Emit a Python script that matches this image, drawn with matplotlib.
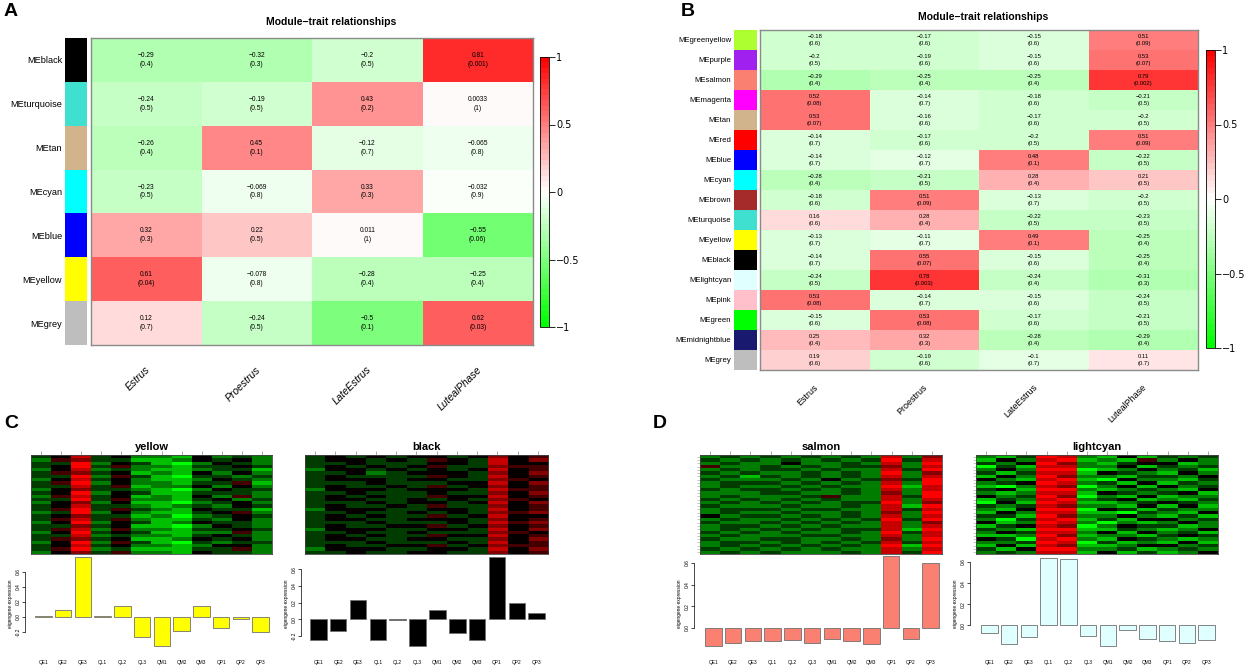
import numpy as np
import matplotlib
matplotlib.use('Agg')
import matplotlib.pyplot as plt
from matplotlib.colors import LinearSegmentedColormap, Normalize
from matplotlib.cm import ScalarMappable

W, H = 1247, 667
SANS = ['Liberation Sans', 'DejaVu Sans']

traits = ['Estrus', 'Proestrus', 'LateEstrus', 'LutealPhase']
samples = ['QE1', 'QE2', 'QE3', 'QL1', 'QL2', 'QL3',
           'QM1', 'QM2', 'QM3', 'QP1', 'QP2', 'QP3']

# ---- panel A: module-trait correlations (text as printed) ----
a_modules = ['MEblack', 'MEturquoise', 'MEtan', 'MEcyan', 'MEblue', 'MEyellow', 'MEgrey']
a_colors = ['black', '#40E0D0', '#D2B48C', 'cyan', 'blue', 'yellow', '#BEBEBE']
a_cor = [['-0.29', '-0.32', '-0.2', '0.81'],
         ['-0.24', '-0.19', '0.43', '0.0033'],
         ['-0.26', '0.45', '-0.12', '-0.065'],
         ['-0.23', '-0.069', '0.33', '-0.032'],
         ['0.32', '0.22', '0.011', '-0.55'],
         ['0.61', '-0.078', '-0.28', '-0.25'],
         ['0.12', '-0.24', '-0.5', '0.62']]
a_p = [['0.4', '0.3', '0.5', '0.001'],
       ['0.5', '0.5', '0.2', '1'],
       ['0.4', '0.1', '0.7', '0.8'],
       ['0.5', '0.8', '0.3', '0.9'],
       ['0.3', '0.5', '1', '0.06'],
       ['0.04', '0.8', '0.4', '0.4'],
       ['0.7', '0.5', '0.1', '0.03']]

# ---- panel B ----
b_modules = ['MEgreenyellow', 'MEpurple', 'MEsalmon', 'MEmagenta', 'MEtan', 'MEred',
             'MEblue', 'MEcyan', 'MEbrown', 'MEturquoise', 'MEyellow', 'MEblack',
             'MElightcyan', 'MEpink', 'MEgreen', 'MEmidnightblue', 'MEgrey']
b_colors = ['#ADFF2F', '#A020F0', '#FA8072', 'magenta', '#D2B48C', 'red',
            'blue', 'cyan', '#A52A2A', '#40E0D0', 'yellow', 'black',
            '#E0FFFF', '#FFC0CB', '#00FF00', '#191970', '#BEBEBE']
b_cor = [['-0.18', '-0.17', '-0.15', '0.51'],
         ['-0.2', '-0.19', '-0.15', '0.53'],
         ['-0.29', '-0.25', '-0.25', '0.79'],
         ['0.52', '-0.14', '-0.18', '-0.21'],
         ['0.53', '-0.16', '-0.17', '-0.2'],
         ['-0.14', '-0.17', '-0.2', '0.51'],
         ['-0.14', '-0.12', '0.48', '-0.22'],
         ['-0.28', '-0.21', '0.28', '0.21'],
         ['-0.18', '0.51', '-0.13', '-0.2'],
         ['0.16', '0.28', '-0.22', '-0.23'],
         ['-0.13', '-0.11', '0.49', '-0.25'],
         ['-0.14', '0.55', '-0.15', '-0.25'],
         ['-0.24', '0.78', '-0.24', '-0.31'],
         ['0.53', '-0.14', '-0.15', '-0.24'],
         ['-0.15', '0.53', '-0.17', '-0.21'],
         ['0.25', '0.32', '-0.28', '-0.29'],
         ['0.19', '-0.19', '-0.1', '0.11']]
b_p = [['0.6', '0.6', '0.6', '0.09'],
       ['0.5', '0.6', '0.6', '0.07'],
       ['0.4', '0.4', '0.4', '0.002'],
       ['0.08', '0.7', '0.6', '0.5'],
       ['0.07', '0.6', '0.6', '0.5'],
       ['0.7', '0.6', '0.5', '0.09'],
       ['0.7', '0.7', '0.1', '0.5'],
       ['0.4', '0.5', '0.4', '0.5'],
       ['0.6', '0.09', '0.7', '0.5'],
       ['0.6', '0.4', '0.5', '0.5'],
       ['0.7', '0.7', '0.1', '0.4'],
       ['0.7', '0.07', '0.6', '0.4'],
       ['0.5', '0.003', '0.4', '0.3'],
       ['0.08', '0.7', '0.6', '0.5'],
       ['0.6', '0.08', '0.6', '0.5'],
       ['0.4', '0.3', '0.4', '0.4'],
       ['0.6', '0.6', '0.7', '0.7']]

# ---- panels C/D: eigengene bars ----
yellow_eig = [0.02, 0.096, 0.80, 0.013, 0.145, -0.27, -0.38, -0.19, 0.145, -0.15, -0.03, -0.20]
black_eig = [-0.25, -0.14, 0.23, -0.25, -0.01, -0.32, 0.115, -0.17, -0.25, 0.75, 0.20, 0.07]
salmon_eig = [-0.17, -0.14, -0.12, -0.125, -0.11, -0.14, -0.10, -0.12, -0.155, 0.66, -0.10, 0.60]
lightcyan_eig = [-0.075, -0.176, -0.113, 0.64, 0.625, -0.10, -0.20, -0.047, -0.126, -0.148, -0.167, -0.14]

# expression heatmaps, levels 0 (green) .. 4 (black) .. 8 (red), estimated by eye
yellow_expr = ["347342214232", "256331124342", "338243102432", "348352213343",
               "247232112331", "356341214242", "338253103323", "247342112432",
               "358242213351", "337351224242", "246332102433", "348243113332",
               "257341214252", "338352213423", "246241102342", "347332123243",
               "358353214331", "238242113452", "346331202343", "357352113242",
               "248243124332", "336341102432", "357252213343", "248343112252",
               "337232213432", "356341124342", "248253103233", "347342212442",
               "358231113352", "246352214332"]
black_expr = ["343434434645", "344343543746", "334333443744", "343434533655",
              "244343434745", "334234443646", "343333543745", "344434433654",
              "333433344746", "343343534645", "244434443755", "334333433646",
              "343433544745", "344334343654", "333434434746", "343343533645",
              "244433443745", "334334343656", "343433534744", "344334443645",
              "333433343756", "343344534645", "244433443746", "334334333654",
              "343433544745", "344334433646", "333433343745", "343344534655",
              "244433443746", "334334433645"]
salmon_expr = ["232323232726", "323232323837", "232242232728", "522323233627",
               "232332322738", "323223232826", "231323232727", "322232423638",
               "233323232728", "232232322817", "323323232727", "222332232628",
               "232223522738", "323232322727", "232323233826", "322232232718",
               "233323322737", "232232232628", "423323232727", "232232323838",
               "322323232726", "233232322727", "232323233718", "323232232837",
               "232223322727", "322332232628", "233232323737", "232323232818",
               "323232322727", "232322232738"]
lightcyan_expr = ["213872141323", "142781215242", "324862134412", "031772241323",
                  "242880124231", "313771432142", "142862213324", "421781042213",
                  "234872314132", "102760241423", "341882123214", "212771432341",
                  "423860214122", "132782341213", "041871123432", "323762214141",
                  "214880431322", "142771103214", "331862242131", "203781314423",
                  "412872021242", "134760243312", "321881132124", "243772414231",
                  "112861221343", "430782143212", "223870312141", "141761124423",
                  "314882231232", "232771413124"]

gwr = LinearSegmentedColormap.from_list('gwr', ['#00FF00', '#FFFFFF', '#FF0000'], N=50)
gbr = LinearSegmentedColormap.from_list('gbr', ['#00FF00', '#000000', '#FF0000'], N=64)

fig = plt.figure(figsize=(W / 100, H / 100), dpi=100)


def px_axes(x0, y0, x1, y1):
    return fig.add_axes([x0 / W, 1 - y1 / H, (x1 - x0) / W, (y1 - y0) / H])


def trait_heatmap(strip, heat, cbar, modules, colors, cor, pval, lab_fs, cell_fs,
                  xlab_y, xlab_fs, italic, title_xy):
    n = len(modules)
    ax_s = px_axes(*strip)
    for i, c in enumerate(colors):
        ax_s.axhspan(i, i + 1, color=c, lw=0)
    ax_s.set_ylim(n, 0)
    ax_s.set_xlim(0, 1)
    ax_s.set_xticks([])
    ax_s.set_yticks(np.arange(n) + 0.5)
    ax_s.set_yticklabels(modules, fontsize=lab_fs, family=SANS)
    ax_s.tick_params(axis='y', length=0, pad=2)
    for s in ax_s.spines.values():
        s.set_visible(False)

    ax = px_axes(*heat)
    vals = np.array([[float(v) for v in row] for row in cor])
    ax.pcolormesh(vals, cmap=gwr, vmin=-1, vmax=1)
    ax.set_ylim(n, 0)
    ax.set_xticks([])
    ax.set_yticks([])
    for s in ax.spines.values():
        s.set_color('#8a8a8a')
        s.set_linewidth(1.0)
    for i in range(n):
        for j in range(4):
            ax.text(j + 0.5, i + 0.5, cor[i][j].replace('-', '\u2212') + '\n(' + pval[i][j] + ')',
                    ha='center', va='center', fontsize=cell_fs, family=SANS, linespacing=1.35)

    x0, x1 = heat[0], heat[2]
    cw = (x1 - x0) / 4
    for j, t in enumerate(traits):
        cx = x0 + cw * (j + 0.5) + 2
        fig.text(cx / W, 1 - xlab_y / H, t, rotation=45, rotation_mode='anchor',
                 ha='right', va='center', fontsize=xlab_fs, family=SANS,
                 style='italic' if italic else 'normal')

    cax = px_axes(*cbar)
    cb = fig.colorbar(ScalarMappable(Normalize(-1, 1), gwr), cax=cax, ticks=[-1, -0.5, 0, 0.5, 1])
    cb.set_ticklabels(['\u22121', '\u22120.5', '0', '0.5', '1'])
    cax.tick_params(labelsize=7, length=4, width=0.6, pad=1)
    cb.outline.set_linewidth(0.6)

    fig.text(title_xy[0] / W, 1 - title_xy[1] / H, 'Module\u2212trait relationships',
             ha='center', va='center', fontsize=7.5, fontweight='bold', family=SANS)


def expr_panel(box, title, rows, row_ticks=False):
    ax = px_axes(*box)
    m = (np.array([[int(ch) for ch in r] for r in rows]) - 4) / 4.0
    ax.imshow(m, cmap=gbr, vmin=-1, vmax=1, aspect='auto', interpolation='nearest')
    ax.set_xticks(range(12))
    ax.xaxis.tick_top()
    ax.tick_params(axis='x', length=3, width=0.5, color='#888888', labeltop=False)
    if row_ticks:
        ax.set_yticks(range(len(rows)))
        ax.tick_params(axis='y', length=2, width=0.4, color='#999999', labelleft=False)
    else:
        ax.set_yticks([])
    for s in ax.spines.values():
        s.set_color('#444444')
        s.set_linewidth(0.6)
    cx = (box[0] + box[2]) / 2
    fig.text(cx / W, 1 - 447 / H, title, ha='center', va='center', fontsize=8,
             fontweight='bold', family=SANS)


def bar_panel(x_axis, x_first, x_last, x_right, zero_y, unit_px, values, color, ticks):
    y_top, y_bot = 555, 652
    ax = px_axes(x_axis, y_top, x_right, y_bot)
    bw = 16.6
    step = (x_last - x_first - bw) / 11
    c0 = x_first + bw / 2
    ax.set_xlim(-(c0 - x_axis) / step, 11 + (x_right - (c0 + 11 * step)) / step)
    ax.set_ylim(-(y_bot - zero_y) / unit_px, (zero_y - y_top) / unit_px)
    ax.bar(range(12), values, width=bw / step, color=color, edgecolor='#707070', linewidth=0.6)
    ax.set_xticks(range(12))
    ax.set_xticklabels(samples, fontsize=3.5, family=SANS)
    ax.tick_params(axis='x', length=0, pad=6)
    ax.set_yticks(ticks)
    ax.set_yticklabels(['%.1f' % t for t in ticks], fontsize=3.5, family=SANS,
                       rotation=90, va='center')
    ax.tick_params(axis='y', length=2, width=0.5, pad=1)
    for k in ['top', 'right', 'bottom']:
        ax.spines[k].set_visible(False)
    ax.spines['left'].set_bounds(ticks[0], ticks[-1])
    ax.spines['left'].set_linewidth(0.5)
    ax.set_ylabel('eigengene expression', fontsize=3.5, family=SANS, labelpad=2)
    ax.patch.set_alpha(0)


trait_heatmap((65, 38, 87, 345), (91, 38, 533, 345), (540, 57, 549, 327),
              a_modules, a_colors, a_cor, a_p, 6.6, 4.8, 368, 7.5, True, (331, 22))
trait_heatmap((734, 30, 757, 370), (760, 30, 1198, 370), (1206, 50, 1215, 348),
              b_modules, b_colors, b_cor, b_p, 5.6, 4.2, 386, 6.5, False, (983, 17))

expr_panel((31, 455, 272, 554), 'yellow', yellow_expr)
expr_panel((305, 455, 548, 554), 'black', black_expr)
expr_panel((700, 455, 942, 554), 'salmon', salmon_expr, row_ticks=True)
expr_panel((976, 455, 1218, 554), 'lightcyan', lightcyan_expr, row_ticks=True)

tk_full = [-0.2, 0.0, 0.2, 0.4, 0.6]
tk_pos = [0.0, 0.2, 0.4, 0.6]
bar_panel(25, 35, 269, 275, 617, 75, yellow_eig, 'yellow', tk_full)
bar_panel(301, 310, 545, 550, 619.3, 83.3, black_eig, 'black', tk_full)
bar_panel(694, 705, 939, 945, 627.7, 108, salmon_eig, '#FA8072', tk_pos)
bar_panel(970, 981, 1215, 1220, 625.3, 105.5, lightcyan_eig, '#E0FFFF', tk_pos)

for lab, x, y in [('A', 11, 11), ('B', 688, 11), ('C', 11, 423), ('D', 660, 423)]:
    fig.text(x / W, 1 - y / H, lab, ha='center', va='center', fontsize=14,
             fontweight='bold', family=SANS)

fig.savefig('out.png', dpi=100)
